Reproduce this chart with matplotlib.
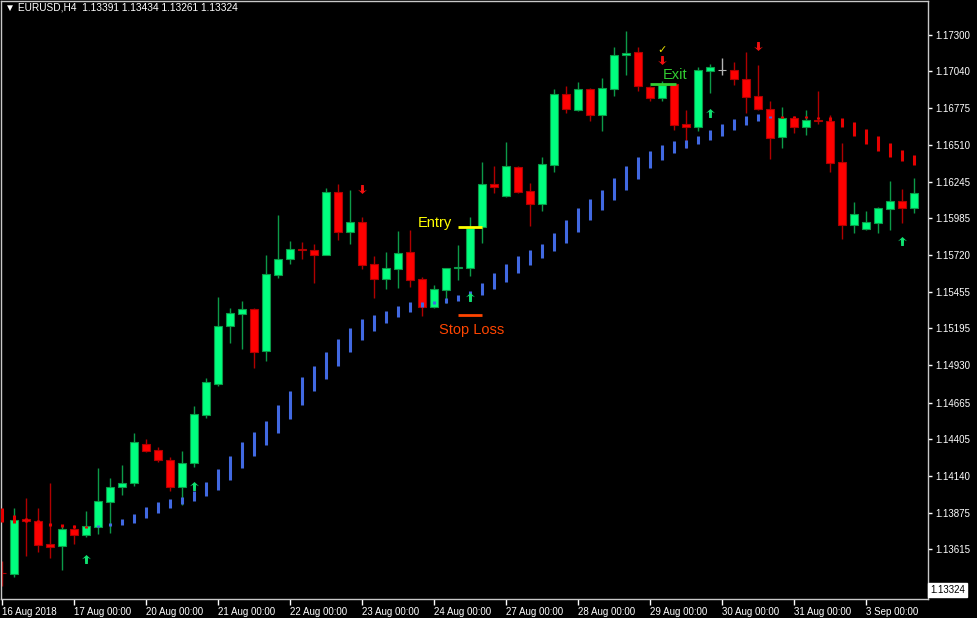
import matplotlib
matplotlib.use("Agg")
import matplotlib.pyplot as plt
from matplotlib.path import Path
from matplotlib.transforms import blended_transform_factory

# EURUSD H4, one candle per 4 hours
opens = [1.13446, 1.13437, 1.13831, 1.13817, 1.13652, 1.13638, 1.13759, 1.13716, 1.13774, 1.13953,
         1.14060, 1.14089, 1.14368, 1.14325, 1.14253, 1.14060, 1.14232, 1.14576, 1.14798, 1.15213,
         1.15299, 1.15335, 1.15034, 1.15578, 1.15693, 1.15761, 1.15757, 1.15721, 1.16172, 1.15886,
         1.15957, 1.15657, 1.15549, 1.15621, 1.15743, 1.15549, 1.15349, 1.15471, 1.15628, 1.15628,
         1.15922, 1.16230, 1.16144, 1.16351, 1.16179, 1.16086, 1.16366, 1.16874, 1.16759, 1.16910,
         1.16724, 1.16910, 1.17153, 1.17175, 1.16924, 1.16845, 1.16946, 1.16659, 1.16638, 1.17039,
         1.17046, 1.17046, 1.16981, 1.16860, 1.16767, 1.16566, 1.16702, 1.16638, 1.16691, 1.16681,
         1.16387, 1.15936, 1.15907, 1.15950, 1.16051, 1.16108, 1.16058]
highs = [1.13530, 1.13910, 1.13981, 1.13910, 1.14089, 1.13781, 1.13788, 1.13888, 1.14196, 1.14125,
         1.14218, 1.14447, 1.14404, 1.14347, 1.14275, 1.14318, 1.14640, 1.14841, 1.15420, 1.15342,
         1.15392, 1.15342, 1.15721, 1.16008, 1.15822, 1.15814, 1.15800, 1.16201, 1.16230, 1.16187,
         1.15993, 1.15714, 1.15743, 1.15893, 1.15900, 1.15564, 1.15506, 1.15628, 1.15793, 1.15993,
         1.16387, 1.16358, 1.16530, 1.16358, 1.16237, 1.16423, 1.16910, 1.16931, 1.16960, 1.16917,
         1.16989, 1.17210, 1.17325, 1.17210, 1.16931, 1.16967, 1.16946, 1.16759, 1.17067, 1.17089,
         1.17132, 1.17103, 1.17175, 1.17082, 1.16824, 1.16781, 1.16716, 1.16759, 1.16895, 1.16724,
         1.16523, 1.16101, 1.16036, 1.16065, 1.16251, 1.16194, 1.16273]
lows = [1.13351, 1.13416, 1.13566, 1.13595, 1.13552, 1.13466, 1.13652, 1.13702, 1.13724, 1.13731,
        1.14003, 1.14067, 1.14311, 1.14239, 1.14031, 1.13931, 1.14203, 1.14554, 1.14783, 1.15091,
        1.15048, 1.14912, 1.14962, 1.15557, 1.15657, 1.15693, 1.15521, 1.15721, 1.15829, 1.15800,
        1.15621, 1.15413, 1.15478, 1.15485, 1.15492, 1.15284, 1.15342, 1.15378, 1.15542, 1.15571,
        1.15807, 1.16165, 1.16136, 1.16165, 1.15929, 1.16036, 1.16315, 1.16738, 1.16752, 1.16681,
        1.16609, 1.16860, 1.17010, 1.16895, 1.16824, 1.16824, 1.16616, 1.16487, 1.16609, 1.16881,
        1.17010, 1.16938, 1.16738, 1.16759, 1.16409, 1.16487, 1.16595, 1.16580, 1.16659, 1.16316,
        1.15836, 1.15879, 1.15900, 1.15879, 1.15900, 1.15950, 1.16022]
closes = [1.13442, 1.13824, 1.13817, 1.13645, 1.13631, 1.13759, 1.13716, 1.13781, 1.13960, 1.14060,
          1.14089, 1.14382, 1.14318, 1.14253, 1.14060, 1.14232, 1.14583, 1.14812, 1.15213, 1.15306,
          1.15335, 1.15027, 1.15585, 1.15693, 1.15764, 1.15754, 1.15721, 1.16172, 1.15886, 1.15957,
          1.15650, 1.15549, 1.15628, 1.15736, 1.15542, 1.15349, 1.15478, 1.15628, 1.15632, 1.15914,
          1.16230, 1.16208, 1.16358, 1.16172, 1.16086, 1.16373, 1.16874, 1.16767, 1.16910, 1.16724,
          1.16917, 1.17153, 1.17168, 1.16931, 1.16845, 1.16938, 1.16652, 1.16638, 1.17046, 1.17067,
          1.17046, 1.16981, 1.16852, 1.16767, 1.16559, 1.16702, 1.16638, 1.16688, 1.16684, 1.16380,
          1.15936, 1.16015, 1.15957, 1.16058, 1.16108, 1.16058, 1.16165]

# trend-stop indicator: top / bottom of each step segment, U = blue (up), D = red (down)
ind_hi = [1.13910, 1.13860, 1.13838, 1.13824, 1.13802, 1.13795, 1.13788, 1.13781, 1.13788, 1.13802,
          1.13831, 1.13867, 1.13917, 1.13953, 1.13974, 1.13989, 1.14032, 1.14096, 1.14189, 1.14282,
          1.14382, 1.14454, 1.14533, 1.14647, 1.14747, 1.14848, 1.14926, 1.15027, 1.15120, 1.15199,
          1.15263, 1.15292, 1.15320, 1.15356, 1.15385, 1.15385, 1.15392, 1.15413, 1.15435, 1.15464,
          1.15521, 1.15592, 1.15657, 1.15714, 1.15757, 1.15800, 1.15879, 1.15972, 1.16058, 1.16122,
          1.16187, 1.16273, 1.16358, 1.16423, 1.16466, 1.16509, 1.16537, 1.16545, 1.16573, 1.16616,
          1.16659, 1.16695, 1.16716, 1.16731, 1.16716, 1.16716, 1.16716, 1.16716, 1.16709, 1.16709,
          1.16702, 1.16673, 1.16623, 1.16573, 1.16523, 1.16473, 1.16437]
ind_lo = [1.13810, 1.13802, 1.13810, 1.13802, 1.13781, 1.13774, 1.13767, 1.13767, 1.13774, 1.13781,
          1.13788, 1.13802, 1.13838, 1.13874, 1.13910, 1.13938, 1.13960, 1.13996, 1.14039, 1.14110,
          1.14196, 1.14282, 1.14361, 1.14447, 1.14547, 1.14647, 1.14747, 1.14833, 1.14926, 1.15027,
          1.15113, 1.15177, 1.15234, 1.15277, 1.15313, 1.15349, 1.15370, 1.15378, 1.15392, 1.15399,
          1.15435, 1.15478, 1.15528, 1.15592, 1.15650, 1.15700, 1.15750, 1.15807, 1.15886, 1.15972,
          1.16044, 1.16115, 1.16187, 1.16265, 1.16344, 1.16401, 1.16451, 1.16487, 1.16516, 1.16545,
          1.16573, 1.16616, 1.16652, 1.16681, 1.16702, 1.16702, 1.16702, 1.16702, 1.16695, 1.16681,
          1.16638, 1.16573, 1.16516, 1.16466, 1.16423, 1.16394, 1.16366]
trend = ("DDDDDDDD"
         "UUUUUUUUUUUUUUUUUUUUUUUUUUUUUUUUUUUUUUUUUUUUUUUUUUUUUUUUU"
         "DDDDDDDDDDDD")

# signal arrows
up_bars = [7, 16, 39, 59, 75]
up_prices = [1.13545, 1.14067, 1.15421, 1.16738, 1.15822]
down_bars = [30, 55, 63]
down_prices = [1.16194, 1.17117, 1.17218]
check_bar, check_price = 55, 1.17189

# trade annotations
entry_price = 1.15922
stop_price = 1.15292
exit_price = 1.16946
entry_bars = (38, 40)
exit_bars = (54, 56.2)

price_ticks = [1.17300, 1.17040, 1.16775, 1.16510, 1.16245, 1.15985, 1.15720, 1.15455,
               1.15195, 1.14930, 1.14665, 1.14405, 1.14140, 1.13875, 1.13615]
date_bars = [0, 6, 12, 18, 24, 30, 36, 42, 48, 54, 60, 66, 72]
date_labels = ["16 Aug 2018", "17 Aug 00:00", "20 Aug 00:00", "21 Aug 00:00", "22 Aug 00:00",
               "23 Aug 00:00", "24 Aug 00:00", "27 Aug 00:00", "28 Aug 00:00", "29 Aug 00:00",
               "30 Aug 00:00", "31 Aug 00:00", "3 Sep 00:00"]
last_price = 1.13324
header = "\u25bc EURUSD,H4  1.13391 1.13434 1.13261 1.13324"

plt.rcParams['font.family'] = ['Liberation Sans', 'DejaVu Sans']

BULL = '#00ff7f'
BEAR = '#ff0000'
BULL_WICK = '#0c9a48'
BEAR_WICK = '#b00000'
DOJI = '#b4b4b4'

# wingdings-like thick arrow marker
arrow_up = Path([(0, 1), (1, 0.05), (0.35, 0.35), (0.3, -1), (-0.3, -1),
                 (-0.35, 0.35), (-1, 0.05), (0, 1)])
arrow_down = Path([(x, -y) for x, y in arrow_up.vertices])

fig = plt.figure(figsize=(9.77, 6.18), dpi=100, facecolor='black')
ax = fig.add_axes([1 / 977, 1 - 599 / 618, 927 / 977, 598 / 618])
ax.set_facecolor('black')

# candles
for i in range(len(opens)):
    o, h, l, c = opens[i], highs[i], lows[i], closes[i]
    if c > o:
        body, wick = BULL, BULL_WICK
    elif c < o:
        body, wick = BEAR, BEAR_WICK
    else:
        body, wick = DOJI, DOJI
    ax.vlines(i, l, h, color=wick, linewidth=1, zorder=2)
    ax.bar(i, abs(c - o), bottom=min(o, c), width=0.68, color=body,
           edgecolor=wick, linewidth=0.8, zorder=2.5)

# indicator
ind_colors = ['#4169e1' if t == 'U' else '#e60000' for t in trend]
ax.vlines(range(len(ind_hi)), ind_lo, ind_hi, colors=ind_colors, linewidth=2.2, zorder=3)

# arrows
ax.plot(up_bars, up_prices, linestyle='none', marker=arrow_up, markersize=6.5,
        color='#10e070', markeredgewidth=0, zorder=4)
ax.plot(down_bars, down_prices, linestyle='none', marker=arrow_down, markersize=6.5,
        color='#f01010', markeredgewidth=0, zorder=4)
ax.text(check_bar, check_price, '\u2713', color='#e8e000', fontsize=8, fontweight='bold',
        family='DejaVu Sans', ha='center', va='center', zorder=4)

# entry / stop / exit
ax.hlines(entry_price, *entry_bars, color='#ffff00', linewidth=2, zorder=4)
ax.hlines(stop_price, *entry_bars, color='#ff4500', linewidth=2, zorder=4)
ax.hlines(exit_price, *exit_bars, color='#32cd32', linewidth=2, zorder=4)
ax.text(36.1, entry_price + 0.00030, 'Entry', color='#ffff00', fontsize=10.5,
        ha='center', va='center', zorder=4)
ax.text(39.1, stop_price - 0.00108, 'Stop Loss', color='#ff4500', fontsize=10.5,
        ha='center', va='center', zorder=4)
ax.text(56.1, exit_price + 0.00065, 'Exit', color='#32cd32', fontsize=10.5,
        ha='center', va='center', zorder=4)

ax.set_xlim(-0.083, 77.17)
ax.set_ylim(1.13258, 1.17540)

# axes styling, MT4 look
for s in ax.spines.values():
    s.set_color('#c8c8c8')
    s.set_linewidth(1)

ax.yaxis.tick_right()
ax.set_yticks(price_ticks)
ax.set_yticklabels([f'{p:.5f}' for p in price_ticks])
ax.tick_params(axis='y', colors='white', labelsize=7, length=3, pad=2, width=1)

ax.set_xticks(date_bars)
ax.set_xticklabels(date_labels)
ax.tick_params(axis='x', colors='white', labelsize=7, length=4, pad=2, width=1)
for lbl in ax.get_xticklabels():
    lbl.set_horizontalalignment('left')

trans = blended_transform_factory(ax.transAxes, ax.transData)
ax.text(1.002, last_price, f'{last_price:.5f}', transform=trans, color='black',
        fontsize=7, ha='left', va='center', clip_on=False,
        bbox=dict(facecolor='white', edgecolor='white', boxstyle='square,pad=0.2'))

ax.text(0.004, 0.997, header, transform=ax.transAxes, color='white', fontsize=7.3,
        ha='left', va='top')

fig.savefig('out.png', dpi=100, facecolor='black')
